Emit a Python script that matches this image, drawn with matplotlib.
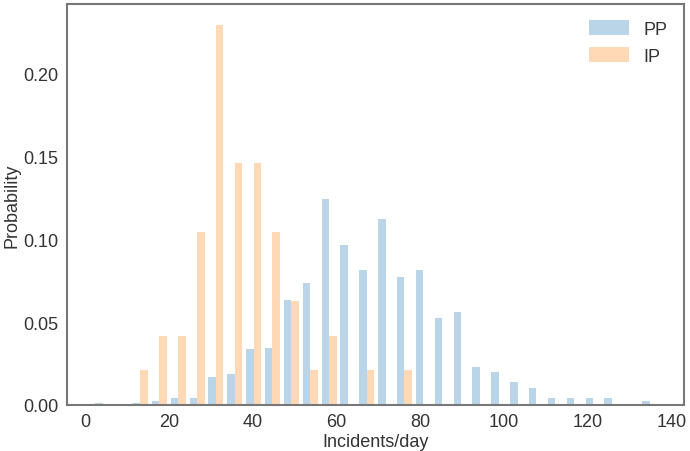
import numpy as np
import matplotlib
matplotlib.use('Agg')
import matplotlib.pyplot as plt

plt.rcParams['font.family'] = ['Liberation Sans', 'DejaVu Sans']

# 30 equal bins between the smallest and largest daily count
bin_edges = np.linspace(2, 137, 31)

# probability per bin
pp_prob = [0.001, 0.0, 0.001, 0.0026, 0.004, 0.004, 0.0167, 0.0187, 0.0338, 0.0344,
           0.0636, 0.0735, 0.124, 0.0967, 0.0812, 0.1124, 0.0771, 0.0812, 0.0524, 0.056,
           0.0228, 0.0198, 0.0141, 0.0101, 0.004, 0.004, 0.004, 0.004, 0.0, 0.0022]
ip_prob = [0, 0, 1/48, 2/48, 2/48, 5/48, 11/48, 7/48, 7/48, 5/48,
           3/48, 1/48, 2/48, 0, 1/48, 0, 1/48, 0, 0, 0,
           0, 0, 0, 0, 0, 0, 0, 0, 0, 0]
labels = ['PP', 'IP']

centers = 0.5 * (bin_edges[:-1] + bin_edges[1:])

fig = plt.figure(figsize=(6.9, 4.52), dpi=100)
ax = fig.add_axes([0.097, 0.102, 0.894, 0.887])

ax.hist([centers, centers], bins=bin_edges, weights=[pp_prob, ip_prob],
        color=['tab:blue', 'tab:orange'], alpha=0.3, label=labels)

ax.set_xlim(-4.3, 142.9)
ax.set_ylim(0, 0.242)
ax.set_xticks([0, 20, 40, 60, 80, 100, 120, 140])
ax.set_yticks([0, 0.05, 0.10, 0.15, 0.20])
ax.yaxis.set_major_formatter(matplotlib.ticker.FormatStrFormatter('%.2f'))
ax.tick_params(length=0, labelsize=13, labelcolor='#333333', pad=6)
for s in ax.spines.values():
    s.set_color('#777777')
    s.set_linewidth(1.5)

ax.set_xlabel('Incidents/day', fontsize=13, color='#333333', labelpad=2)
ax.set_ylabel('Probability', fontsize=13, color='#333333', labelpad=2)
ax.legend(loc='upper right', frameon=False, fontsize=13, labelcolor='#333333',
          handlelength=2.2, handleheight=0.9)

fig.savefig('out.png', dpi=100)
